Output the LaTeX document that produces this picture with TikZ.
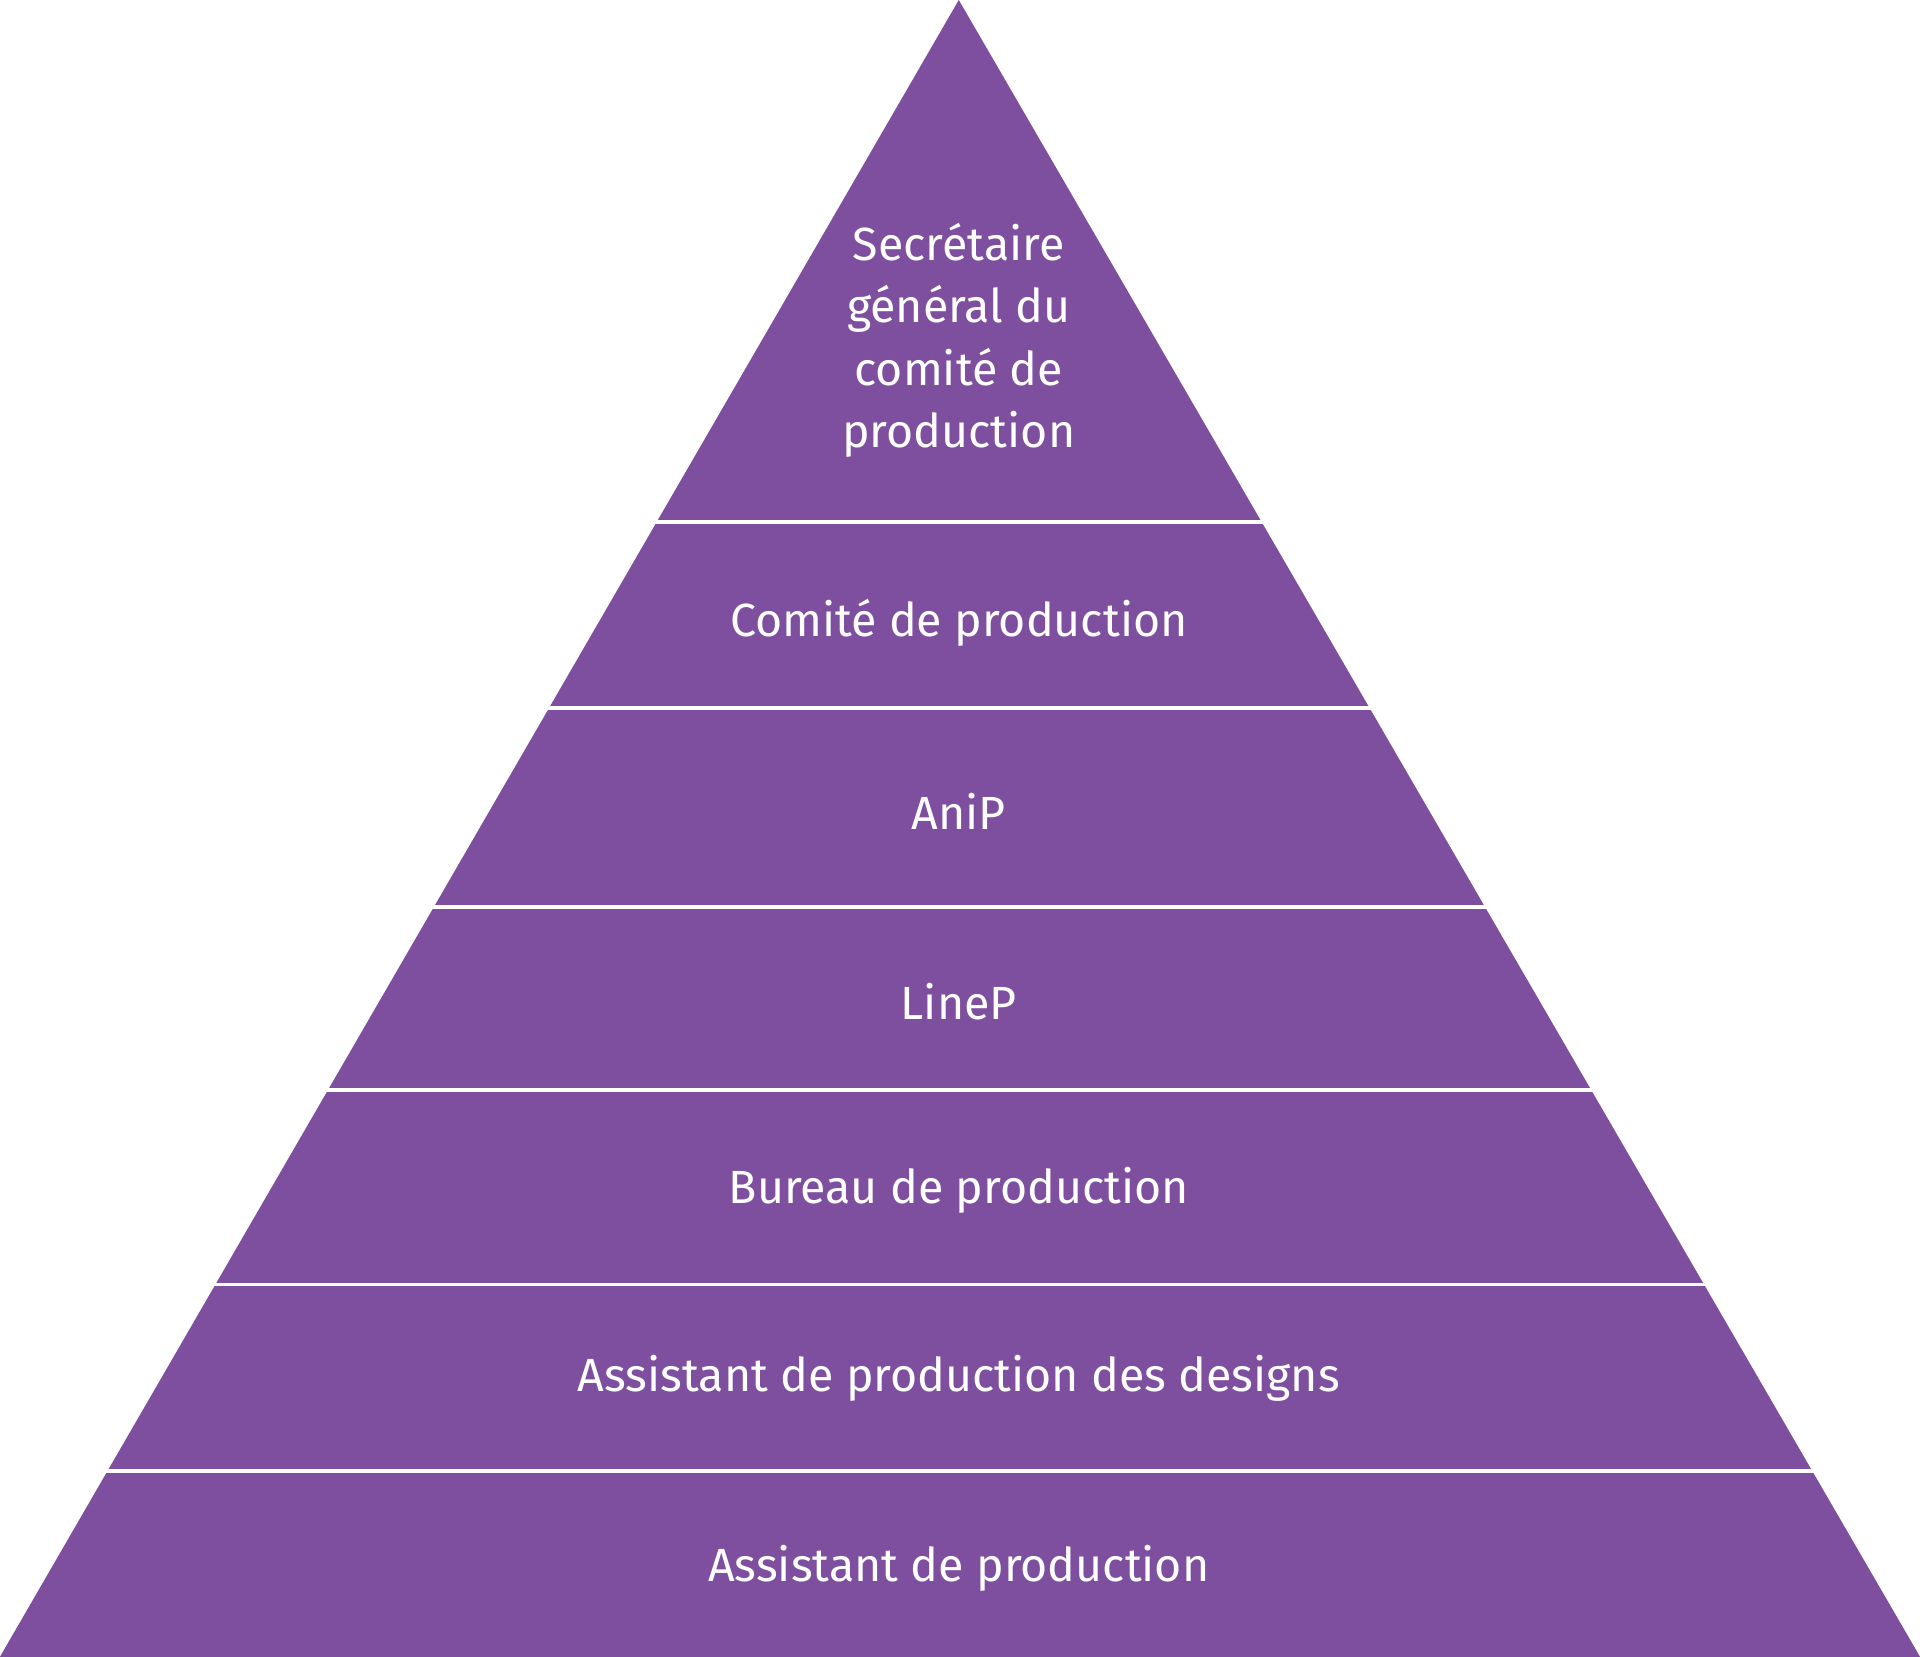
\documentclass[tikz,border=0pt]{standalone}
\usepackage{fontspec}
\setmainfont{Fira Sans}
\definecolor{pyr}{HTML}{7F4F9F}
\begin{document}
\begin{tikzpicture}[x=0.5pt,y=-0.5pt,
  lbl/.style={text=white,font=\fontsize{19}{25.5}\selectfont,align=center,inner sep=0pt},
  sep/.style={draw=white,line width=1.6pt}]
\useasboundingbox (0,0) rectangle (1568,1353);
\fill[pyr] (783,0) -- (1568,1353) -- (0,1353) -- cycle;
\foreach \y in {426,578,741,890,1049,1201} \draw[sep] (0,\y) -- (1568,\y);
\node[lbl] (n1) at (783,278) {Secrétaire\\général du\\comité de\\production};
\node[lbl] (n2) at (783,509) {Comité de production};
\node[lbl] (n3) at (783,663) {AniP};
\node[lbl] (n4) at (783,818) {LineP};
\node[lbl] (n5) at (783,972) {Bureau de production};
\node[lbl] (n6) at (783,1126) {Assistant de production des designs};
\node[lbl] (n7) at (783,1281) {Assistant de production};
\end{tikzpicture}
\end{document}
